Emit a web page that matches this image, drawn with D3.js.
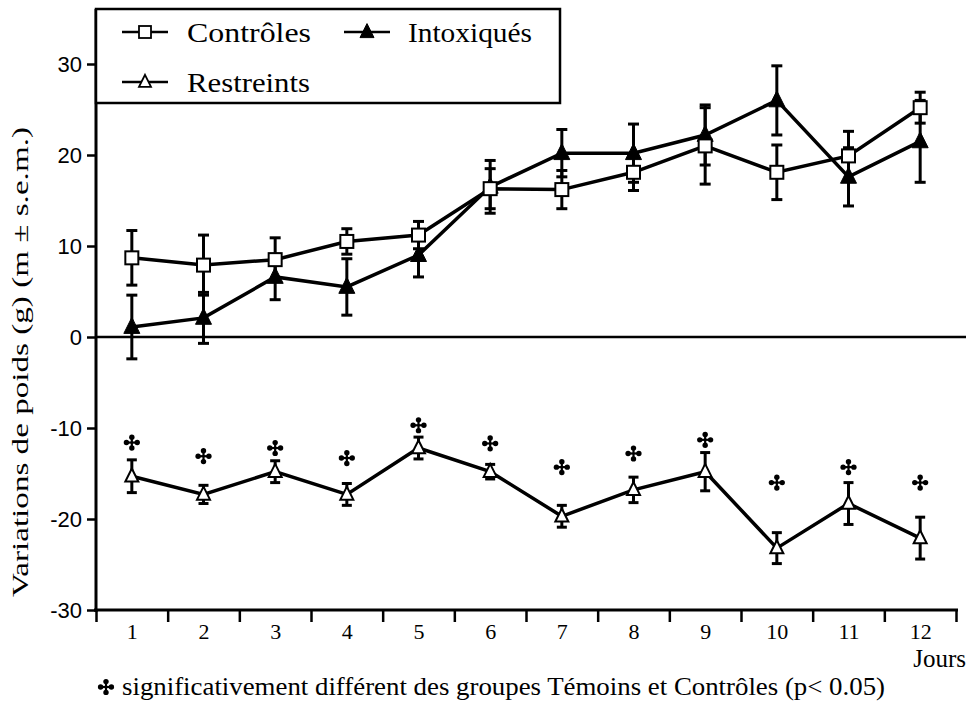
<!DOCTYPE html>
<html><head><meta charset="utf-8">
<script src="https://cdn.jsdelivr.net/npm/d3@7"></script>
<style>body{margin:0;background:#fff}svg{display:block}</style>
</head><body>
<svg id="c" width="973" height="705"></svg>
<script>
const days = [1,2,3,4,5,6,7,8,9,10,11,12];
const controles      = [8.7, 7.9, 8.5, 10.5, 11.2, 16.3, 16.2, 18.1, 21.0, 18.1, 19.9, 25.2];
const controlesSem   = [3.0, 3.3, 2.4, 1.4, 1.5, 2.2, 2.1, 2.0, 4.2, 3.0, 2.7, 1.7];
const intoxiques     = [1.1, 2.1, 6.6, 5.5, 9.0, 16.5, 20.2, 20.2, 22.2, 26.0, 17.6, 21.5];
const intoxiquesSem  = [3.5, 2.8, 2.5, 3.1, 2.4, 2.9, 2.6, 3.2, 3.3, 3.8, 3.2, 4.5];
const restreints     = [-15.3, -17.3, -14.8, -17.3, -12.2, -14.8, -19.7, -16.8, -14.8, -23.2, -18.3, -22.1];
const restreintsSem  = [1.8, 1.0, 1.2, 1.2, 1.2, 0.8, 1.2, 1.4, 2.1, 1.7, 2.3, 2.3];
const signifY        = [-11.6, -13.1, -12.2, -13.3, -9.7, -11.7, -14.3, -12.8, -11.3, -16.0, -14.3, -16.0];
const yTicks = [-30, -20, -10, 0, 10, 20, 30];
const yTickLabels = ["-30", "-20", "-10", "0", "10", "20", "30"];
const seriesNames = ["Contrôles", "Intoxiqués", "Restreints"];
const yTitle = "Variations de poids (g) (m ± s.e.m.)";
const xTitle = "Jours";
const footnote = "significativement différent des groupes Témoins et Contrôles (p< 0.05)";

const SERIF = "'Liberation Serif', 'DejaVu Serif', serif";
const SANS = "'Liberation Sans', Arial, sans-serif";
const svg = d3.select("#c");

const x = d3.scaleLinear().domain([0.5, 12.5]).range([96, 956]);
const y = d3.scaleLinear().domain([-30, 30]).range([610, 64]);

// y axis
const yAx = svg.append("g").attr("transform", "translate(96,0)")
  .call(d3.axisLeft(y).tickValues(yTicks).tickSize(9).tickPadding(5)
    .tickFormat((d, i) => yTickLabels[i]));
yAx.select(".domain").remove();
yAx.selectAll(".tick line").attr("stroke", "#000").attr("stroke-width", 2.5);
yAx.selectAll(".tick text").attr("font-family", SANS).attr("font-size", 22).attr("fill", "#000");
svg.append("line").attr("x1", 96).attr("x2", 96).attr("y1", 9).attr("y2", 612)
  .attr("stroke", "#000").attr("stroke-width", 3);

// zero line
svg.append("line").attr("x1", 96).attr("x2", 966).attr("y1", y(0)).attr("y2", y(0))
  .attr("stroke", "#000").attr("stroke-width", 2.5);

// x axis: boundary ticks
const xb = svg.append("g").attr("transform", "translate(0,610)")
  .call(d3.axisBottom(x).tickValues(d3.range(0.5, 13, 1)).tickSize(12).tickFormat(""));
xb.select(".domain").attr("stroke", "#000").attr("stroke-width", 3).attr("d", "M94,0H958");
xb.selectAll(".tick line").attr("stroke", "#000").attr("stroke-width", 2.5);
// x labels
const xl = svg.append("g").attr("transform", "translate(0,610)")
  .call(d3.axisBottom(x).tickValues(days).tickSize(0).tickPadding(13).tickFormat(d3.format("d")));
xl.select(".domain").remove();
xl.selectAll(".tick text").attr("font-family", SERIF).attr("font-size", 22).attr("fill", "#000");

svg.append("text").attr("x", 966).attr("y", 667).attr("text-anchor", "end")
  .attr("font-family", SERIF).attr("font-size", 25).text(xTitle);

// y title
svg.append("text").attr("transform", "translate(28,362) rotate(-90)").attr("text-anchor", "middle")
  .attr("font-family", SERIF).attr("font-size", 24)
  .attr("textLength", 470).attr("lengthAdjust", "spacingAndGlyphs").text(yTitle);

function errorBars(vals, sems, cap) {
  const g = svg.append("g").attr("stroke", "#000").attr("stroke-width", 3);
  vals.forEach((v, i) => {
    const px = x(days[i]);
    g.append("line").attr("x1", px).attr("x2", px).attr("y1", y(v + sems[i])).attr("y2", y(v - sems[i]));
    [v + sems[i], v - sems[i]].forEach(e => {
      g.append("line").attr("x1", px - cap / 2).attr("x2", px + cap / 2).attr("y1", y(e)).attr("y2", y(e));
    });
  });
}
function seriesLine(vals) {
  svg.append("path").datum(vals)
    .attr("d", d3.line().x((d, i) => x(days[i])).y(d => y(d)))
    .attr("fill", "none").attr("stroke", "#000").attr("stroke-width", 3.5).attr("stroke-linejoin", "miter");
}
const triPath = (s) => `M0,${-s * 0.6}L${s / 2},${s * 0.4}L${-s / 2},${s * 0.4}Z`;

errorBars(restreints, restreintsSem, 10);
errorBars(intoxiques, intoxiquesSem, 11);
errorBars(controles, controlesSem, 11);
seriesLine(restreints);
seriesLine(intoxiques);
seriesLine(controles);

// markers
svg.append("g").selectAll("path").data(restreints).join("path")
  .attr("transform", (d, i) => `translate(${x(days[i])},${y(d)})`)
  .attr("d", triPath(13)).attr("fill", "#fff").attr("stroke", "#000").attr("stroke-width", 2);
svg.append("g").selectAll("path").data(intoxiques).join("path")
  .attr("transform", (d, i) => `translate(${x(days[i])},${y(d)})`)
  .attr("d", triPath(16)).attr("fill", "#000").attr("stroke", "#000").attr("stroke-width", 1);
svg.append("g").selectAll("rect").data(controles).join("rect")
  .attr("x", (d, i) => x(days[i]) - 6.5).attr("y", d => y(d) - 6.5)
  .attr("width", 13).attr("height", 13).attr("fill", "#fff").attr("stroke", "#000").attr("stroke-width", 2);

// significance crosses
function cross(g) {
  g.append("line").attr("x1", -5).attr("x2", 5).attr("y1", 0).attr("y2", 0).attr("stroke", "#000").attr("stroke-width", 2.2);
  g.append("line").attr("x1", 0).attr("x2", 0).attr("y1", -5).attr("y2", 5).attr("stroke", "#000").attr("stroke-width", 2.2);
  [[0, -5.4], [0, 5.4], [-5.4, 0], [5.4, 0]].forEach(([a, b]) =>
    g.append("circle").attr("cx", a).attr("cy", b).attr("r", 2.7).attr("fill", "#000"));
}
signifY.forEach((v, i) => {
  const g = svg.append("g").attr("transform", `translate(${x(days[i])},${y(v)})`);
  cross(g);
});

// legend
svg.append("rect").attr("x", 96).attr("y", 9).attr("width", 464).attr("height", 94)
  .attr("fill", "#fff").attr("stroke", "#000").attr("stroke-width", 2.5);
const leg = [
  {name: seriesNames[0], lx: 122, ly: 32, tx: 187, w: 124, type: "sq"},
  {name: seriesNames[1], lx: 344, ly: 32, tx: 408, w: 124, type: "tri"},
  {name: seriesNames[2], lx: 122, ly: 82, tx: 187, w: 123, type: "otri"}
];
leg.forEach(l => {
  svg.append("line").attr("x1", l.lx).attr("x2", l.lx + 46).attr("y1", l.ly).attr("y2", l.ly)
    .attr("stroke", "#000").attr("stroke-width", 2.5);
  const mx = l.lx + 23;
  if (l.type === "sq") svg.append("rect").attr("x", mx - 6).attr("y", l.ly - 6).attr("width", 12).attr("height", 12)
    .attr("fill", "#fff").attr("stroke", "#000").attr("stroke-width", 1.8);
  else svg.append("path").attr("transform", `translate(${mx},${l.ly})`).attr("d", triPath(l.type === "tri" ? 14 : 12))
    .attr("fill", l.type === "tri" ? "#000" : "#fff").attr("stroke", "#000").attr("stroke-width", l.type === "tri" ? 1 : 1.8);
  svg.append("text").attr("x", l.tx).attr("y", l.ly + 10).attr("font-family", SERIF).attr("font-size", 28)
    .attr("textLength", l.w).attr("lengthAdjust", "spacingAndGlyphs").text(l.name);
});

// footnote
const fg = svg.append("g").attr("transform", "translate(106,687)");
cross(fg);
svg.append("text").attr("x", 122).attr("y", 695).attr("font-family", SERIF).attr("font-size", 26)
  .attr("textLength", 763).attr("lengthAdjust", "spacingAndGlyphs").text(footnote);
</script>
</body></html>
